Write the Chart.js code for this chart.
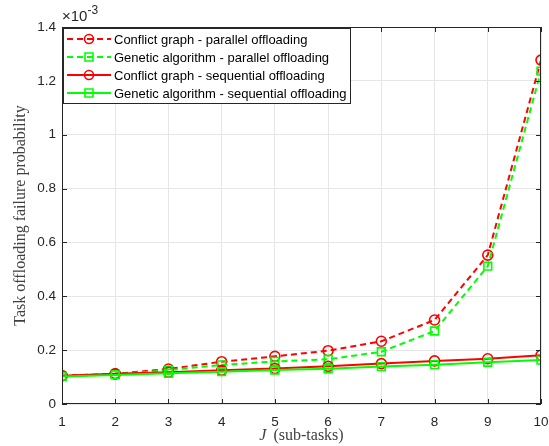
<!DOCTYPE html>
<html>
<head>
<meta charset="utf-8">
<script src="https://cdn.jsdelivr.net/npm/chart.js@4.4.0/dist/chart.umd.min.js"></script>
<style>
  html, body { margin: 0; padding: 0; background: #fff; }
  #wrap { width: 549px; height: 446px; }
</style>
</head>
<body>
<div id="wrap"><canvas id="myChart" width="549" height="446"></canvas></div>
<script>
// sub-task counts J
let subTasks = [1, 2, 3, 4, 5, 6, 7, 8, 9, 10];
// failure probability, in units of 1e-3
let conflictParallel = [0.105, 0.112, 0.13, 0.157, 0.177, 0.198, 0.233, 0.312, 0.553, 1.277];
let geneticParallel  = [0.103, 0.11, 0.126, 0.145, 0.158, 0.166, 0.194, 0.271, 0.512, 1.236];
let conflictSeq      = [0.105, 0.112, 0.118, 0.125, 0.132, 0.14, 0.15, 0.16, 0.168, 0.181];
let geneticSeq       = [0.102, 0.108, 0.114, 0.12, 0.126, 0.131, 0.139, 0.146, 0.155, 0.163];
let seriesNames = [
    "Conflict graph - parallel offloading",
    "Genetic algorithm - parallel offloading",
    "Conflict graph - sequential offloading",
    "Genetic algorithm - sequential offloading"
];
let yTicks = [0, 0.2, 0.4, 0.6, 0.8, 1, 1.2, 1.4];

const RED = '#ff0000';
const GREEN = '#00ff00';
const DASH = [6, 4];
const sansFont = 'Liberation Sans, Arial, sans-serif';
const serifFont = 'Liberation Serif, Times New Roman, serif';

function toPoints(arr){
    return arr.map((v, i) => ({ x: subTasks[i], y: v }));
}

function makeSet(name, arr, color, dashed, marker, order){
    return {
        label: name,
        data: toPoints(arr),
        borderColor: color,
        backgroundColor: 'rgba(0,0,0,0)',
        borderWidth: 2,
        borderDash: dashed ? DASH : [],
        pointStyle: marker,
        pointRadius: marker === 'circle' ? 5 : 5.5,
        pointBorderColor: color,
        pointBackgroundColor: 'rgba(0,0,0,0)',
        pointBorderWidth: 1.6,
        tension: 0,
        order: order
    };
}

// MATLAB style frame, inward ticks, exponent label, x title and legend
const matlabLook = {
    id: 'matlabLook',
    afterDraw(chart){
        const ctx = chart.ctx;
        const a = chart.chartArea;
        const xs = chart.scales.x, ys = chart.scales.y;
        ctx.save();
        // box
        ctx.strokeStyle = '#262626';
        ctx.lineWidth = 1;
        ctx.setLineDash([]);
        ctx.strokeRect(a.left + 0.5, a.top + 0.5, a.right - a.left - 1, a.bottom - a.top - 1);
        // inward ticks
        ctx.beginPath();
        subTasks.forEach(v => {
            const px = Math.round(xs.getPixelForValue(v)) + 0.5;
            ctx.moveTo(px, a.bottom); ctx.lineTo(px, a.bottom - 5);
            ctx.moveTo(px, a.top); ctx.lineTo(px, a.top + 5);
        });
        yTicks.forEach(v => {
            const py = Math.round(ys.getPixelForValue(v)) + 0.5;
            ctx.moveTo(a.left, py); ctx.lineTo(a.left + 5, py);
            ctx.moveTo(a.right, py); ctx.lineTo(a.right - 5, py);
        });
        ctx.stroke();

        // x10^-3
        ctx.fillStyle = '#262626';
        ctx.textBaseline = 'alphabetic';
        ctx.textAlign = 'left';
        ctx.font = '15px ' + sansFont;
        ctx.fillText('\u00d710', a.left, a.top - 6);
        const w = ctx.measureText('\u00d710').width;
        ctx.font = '12px ' + sansFont;
        ctx.fillText('-3', a.left + w, a.top - 13);

        // x title: J italic
        ctx.fillStyle = '#404040';
        ctx.font = '16px ' + serifFont;
        const t2 = '(sub-tasks)';
        const w2 = ctx.measureText(t2).width;
        ctx.font = 'italic 16px ' + serifFont;
        const w1 = ctx.measureText('J').width;
        const gap = 7;
        const cx = (a.left + a.right) / 2;
        const startX = cx - (w1 + gap + w2) / 2;
        ctx.fillText('J', startX, 440);
        ctx.font = '16px ' + serifFont;
        ctx.fillText(t2, startX + w1 + gap, 440);

        // legend
        const lx = a.left + 1, ly = a.top + 1, lw = 287, lh = 75;
        ctx.fillStyle = '#ffffff';
        ctx.fillRect(lx, ly, lw, lh);
        ctx.strokeStyle = '#262626';
        ctx.lineWidth = 1;
        ctx.strokeRect(lx + 0.5, ly + 0.5, lw, lh);
        const sets = chart.data.datasets;
        sets.forEach((ds, i) => {
            const yy = ly + 11 + i * 18;
            ctx.strokeStyle = ds.borderColor;
            ctx.lineWidth = 2;
            ctx.setLineDash(ds.borderDash);
            ctx.beginPath();
            ctx.moveTo(lx + 4, yy); ctx.lineTo(lx + 48, yy);
            ctx.stroke();
            ctx.setLineDash([]);
            ctx.lineWidth = 1.6;
            ctx.beginPath();
            if (ds.pointStyle === 'circle') {
                ctx.arc(lx + 26, yy, 4.5, 0, Math.PI * 2);
            } else {
                ctx.rect(lx + 22, yy - 4, 8, 8);
            }
            ctx.stroke();
            ctx.fillStyle = '#000000';
            ctx.font = '13px ' + sansFont;
            ctx.textBaseline = 'middle';
            ctx.fillText(ds.label, lx + 51, yy + 1);
        });
        ctx.restore();
    }
};

const ctx = document.getElementById('myChart').getContext('2d');
const myChart = new Chart(ctx, {
    type: 'line',
    data: {
        datasets: [
            makeSet(seriesNames[0], conflictParallel, RED, true, 'circle', 4),
            makeSet(seriesNames[1], geneticParallel, GREEN, true, 'rect', 3),
            makeSet(seriesNames[2], conflictSeq, RED, false, 'circle', 2),
            makeSet(seriesNames[3], geneticSeq, GREEN, false, 'rect', 1)
        ]
    },
    options: {
        responsive: false,
        animation: false,
        layout: { padding: { top: 27, right: 8, left: 0, bottom: 0 } },
        plugins: {
            legend: { display: false },
            tooltip: { enabled: false }
        },
        scales: {
            x: {
                type: 'linear',
                min: 1,
                max: 10,
                afterFit: (s) => {
                    s.height = 42;
                    s.paddingLeft = 0;
                    s.paddingRight = 0;
                },
                ticks: {
                    stepSize: 1,
                    color: '#262626',
                    font: { family: sansFont, size: 13.5 },
                    padding: 10
                },
                grid: { color: '#e6e6e6', drawTicks: false },
                border: { display: false }
            },
            y: {
                min: 0,
                max: 1.4,
                afterFit: (s) => { s.width = 62; },
                afterBuildTicks: (s) => { s.ticks = yTicks.map(v => ({ value: v })); },
                ticks: {
                    color: '#262626',
                    font: { family: sansFont, size: 13.5 },
                    padding: 6,
                    callback: (v) => String(Math.round(v * 10) / 10)
                },
                title: {
                    display: true,
                    text: 'Task offloading failure probability',
                    color: '#404040',
                    font: { family: serifFont, size: 16 },
                    padding: { top: 11, bottom: 2 }
                },
                grid: { color: '#e6e6e6', drawTicks: false },
                border: { display: false }
            }
        }
    },
    plugins: [matlabLook]
});
</script>
</body>
</html>
